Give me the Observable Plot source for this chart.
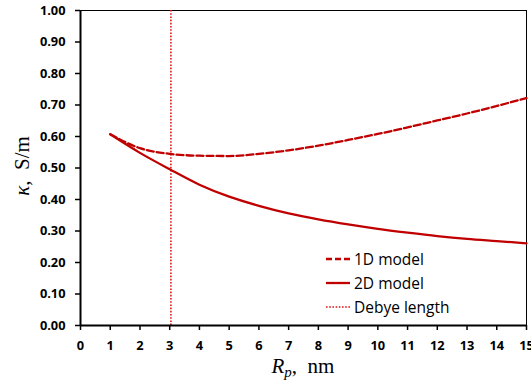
<!DOCTYPE html>
<html>
<head>
<meta charset="utf-8">
<script src="https://cdn.jsdelivr.net/npm/d3@7"></script>
<script src="https://cdn.jsdelivr.net/npm/@observablehq/plot@0.6"></script>
<style>
  html, body { margin: 0; padding: 0; background: #fff; }
  #chart { position: relative; width: 531px; height: 387px; }
  #legend { position: absolute; left: 326px; top: 247px; font-family: "Open Sans", sans-serif; font-size: 15.5px; color: #000; }
  #legend .row { display: flex; align-items: center; height: 24px; }
  #legend svg { margin-right: 4px; }
</style>
</head>
<body>
<div id="chart"></div>
<script>
// Data
const radius = [1, 2, 3, 4, 5, 6, 7, 8, 9, 10, 11, 12, 13, 14, 15];
const model1D = [0.607, 0.563, 0.545, 0.539, 0.538, 0.545, 0.556, 0.571, 0.589, 0.608, 0.629, 0.651, 0.673, 0.697, 0.722];
const model2D = [0.607, 0.548, 0.496, 0.447, 0.409, 0.380, 0.356, 0.337, 0.321, 0.307, 0.295, 0.284, 0.275, 0.268, 0.261];
const debyeLength = [3.04];
const xTicks = [0, 1, 2, 3, 4, 5, 6, 7, 8, 9, 10, 11, 12, 13, 14, 15];
const yTicks = [0, 0.1, 0.2, 0.3, 0.4, 0.5, 0.6, 0.7, 0.8, 0.9, 1.0];
const seriesNames = ["1D model", "2D model", "Debye length"];

const red = "#C00000";
const dotRed = "#E01515";

const rows1D = radius.map((r, i) => ({r, k: model1D[i]}));
const rows2D = radius.map((r, i) => ({r, k: model2D[i]}));

const plot = Plot.plot({
  width: 531,
  height: 387,
  marginLeft: 80,
  marginRight: 5,
  marginTop: 10,
  marginBottom: 62,
  style: {fontFamily: "'Open Sans', sans-serif", fontSize: "12.8px", fontWeight: "bold", color: "#000", background: "#fff"},
  x: {domain: [0, 15]},
  y: {domain: [0, 1]},
  marks: [
    Plot.frame({stroke: "#000", strokeWidth: 1}),
    Plot.ruleX(debyeLength, {stroke: dotRed, strokeWidth: 1.6, strokeDasharray: "1.6,1.6"}),
    Plot.line(rows1D, {x: "r", y: "k", stroke: red, strokeWidth: 2.3, strokeDasharray: "7,3", curve: "monotone-x"}),
    Plot.line(rows2D, {x: "r", y: "k", stroke: red, strokeWidth: 2.3, curve: "monotone-x"}),
    Plot.ruleX([0], {stroke: "#000", strokeWidth: 2}),
    Plot.ruleY([0], {stroke: "#000", strokeWidth: 2}),
    Plot.axisY(yTicks, {tickSize: 5, tickPadding: 10, strokeWidth: 1.5, label: null, tickFormat: d => d.toFixed(2), fontWeight: "bold", fill: "#000"}),
    Plot.axisX(xTicks, {tickSize: 5, tickPadding: 10, strokeWidth: 1.5, label: null, tickFormat: d => String(d), fontWeight: "bold", fill: "#000"})
  ]
});

document.getElementById("chart").appendChild(plot);

// Axis titles (math-style, serif)
const svg = d3.select(plot);
const serif = "'Liberation Serif', 'DejaVu Serif', serif";
const yt = svg.append("text")
  .attr("transform", "translate(29,166) rotate(-90)")
  .attr("text-anchor", "middle")
  .attr("font-family", serif)
  .attr("font-size", 21)
  .attr("font-weight", "normal")
  .attr("fill", "#000");
yt.append("tspan").attr("font-style", "italic").text("κ");
yt.append("tspan").text(",\u2002S/m");

const xt = svg.append("text")
  .attr("x", 303)
  .attr("y", 373)
  .attr("text-anchor", "middle")
  .attr("font-family", serif)
  .attr("font-size", 21)
  .attr("font-weight", "normal")
  .attr("fill", "#000");
xt.append("tspan").attr("font-style", "italic").text("R");
xt.append("tspan").attr("font-style", "italic").attr("font-size", 15).attr("dy", 4).text("p");
xt.append("tspan").attr("dy", -4).text(",\u2002nm");

// Legend inside the plot area
const legend = document.createElement("div");
legend.id = "legend";
const styles = [
  {dash: "6,3", width: 2.3, color: red},
  {dash: null, width: 2.3, color: red},
  {dash: "1.6,1.6", width: 1.6, color: dotRed}
];
seriesNames.forEach((name, i) => {
  const s = styles[i];
  const row = document.createElement("div");
  row.className = "row";
  row.innerHTML = `<svg width="24" height="10"><line x1="0" x2="24" y1="5" y2="5" stroke="${s.color}" stroke-width="${s.width}" ${s.dash ? `stroke-dasharray="${s.dash}"` : ""}/></svg><span>${name}</span>`;
  legend.appendChild(row);
});
document.getElementById("chart").appendChild(legend);
</script>
</body>
</html>
